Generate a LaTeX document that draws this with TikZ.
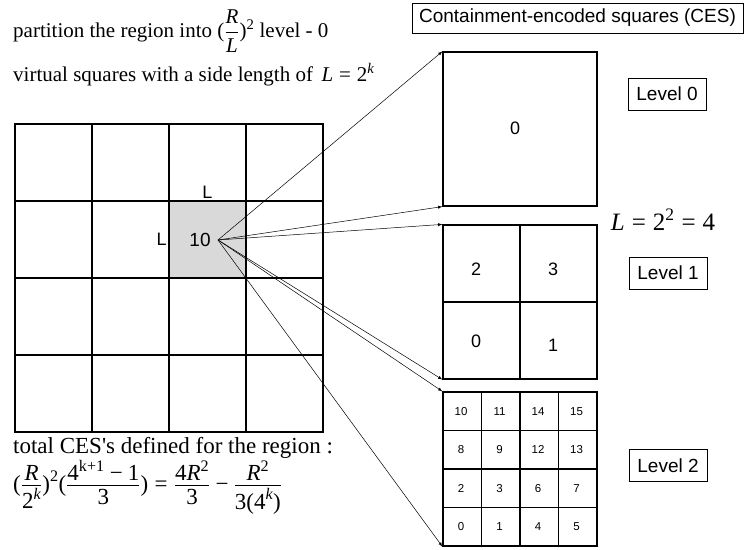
\documentclass[tikz,border=0pt]{standalone}
\usepackage{fix-cm}
\usepackage{fontspec}
\usepackage{amsmath}
\setmainfont{Liberation Serif}
\setsansfont{Liberation Sans}
\usetikzlibrary{positioning}
\newcommand{\mv}[1]{\text{\itshape #1}}
\newcommand{\mt}[1]{\text{\upshape #1}}
\newcommand{\meq}{\mathrel{\text{=}}}
\newcommand{\mmin}{\mathbin{\text{−}}}
\newcommand{\nfr}[2]{\dfrac{\raisebox{-5pt}{$#1$}}{\raisebox{2pt}{$#2$}}}
\newcommand{\squote}{{\XeTeXglyph\XeTeXcharglyph"27\relax}}
\begin{document}
\begin{tikzpicture}[x=1pt,y=1pt,
  sq/.style={draw,line width=1.2pt,minimum size=154pt,inner sep=0pt},
  gline/.style={line width=1.2pt,line cap=rect},
  lvbox/.style={draw,line width=0.6pt,minimum width=78pt,minimum height=32pt,inner sep=0pt,font=\sffamily\fontsize{19}{22}\selectfont},
  txt/.style={anchor=base west,inner sep=0pt,font=\fontsize{21}{25}\selectfont},
  num/.style={inner sep=1pt,font=\sffamily\fontsize{18}{21}\selectfont},
  snum/.style={font=\sffamily\fontsize{11.5}{13}\selectfont},
  conn/.style={-latex,line width=0.5pt}]
\useasboundingbox (0,0) rectangle (746,549);
\node[fill=black!15,minimum size=77pt,inner sep=0pt] (cell) at (207.5,309.5) {};
\foreach \i in {0,...,4} {
  \draw[gline] (15+77*\i,117) -- (15+77*\i,425);
  \draw[gline] (15,117+77*\i) -- (323,117+77*\i);
}
\node[num,font=\sffamily\fontsize{19}{22}\selectfont] (ten) at (200,309) {10};
\node[num,above=1pt of cell] (ltop) {L};
\node[num,left=1pt of cell] (lleft) {L};
\coordinate (src) at (218,309);

\node[sq] (lv0) at (520,420) {};
\node[sq] (lv1) at (520,247) {};
\node[sq] (lv2) at (520,80) {};
\draw[gline] (lv1.north) -- (lv1.south);
\draw[gline] (lv1.west) -- (lv1.east);
\foreach \i in {1,2,3} {
  \draw[gline] (443+38.5*\i,3) -- (443+38.5*\i,157);
  \draw[gline] (443,3+38.5*\i) -- (597,3+38.5*\i);
}
\node[num] (a0) at (515,421) {0};
\node[num] (b2) at (476,280) {2};
\node[num] (b3) at (553,280) {3};
\node[num] (b0) at (476,208) {0};
\node[num] (b1) at (553,204) {1};
\foreach \n [count=\i from 0] in {10,11,14,15,8,9,12,13,2,3,6,7,0,1,4,5}
  \node[snum] (c\n) at ({461+38.5*mod(\i,4)},{137.75-38.5*int(\i/4)}) {\n};

\foreach \t in {lv0,lv1,lv2} {
  \draw[conn] (src) -- (\t.north west);
  \draw[conn] (src) -- (\t.south west);
}

\node[lvbox,minimum width=331pt,minimum height=30pt] (ces) at (577.5,531) {Containment-encoded squares (CES)};
\node[lvbox] (l0) at (667,455) {Level 0};
\node[lvbox] (l1) at (668,276) {Level 1};
\node[lvbox] (l2) at (668,83.5) {Level 2};
\node[font=\fontsize{25}{30}\selectfont] (leq) at (663,329) {$\mv{L}\meq\mt{2}^{\mt{2}}\meq\mt{4}$};

\node[txt] (t1) at (13,511) {partition the region into $\mt{(}\dfrac{\mv{R}}{\mv{L}}\mt{)}^{\mt{2}}$ level - 0};
\node[txt] (t2) at (13,467) {virtual squares with a side length of\, $\mv{L}\meq\mt{2}^{\mv{k}}$};
\node[txt,font=\fontsize{23}{27}\selectfont] (t3) at (13,96) {total CES\squote s defined for the region :};
\node[txt,font=\fontsize{23}{27}\selectfont] (t4) at (13,58) {$\mt{(}\nfr{\mv{R}}{\mt{2}^{\mv{k}}}\mt{)}^{\mt{2}}\mt{(}\nfr{\mt{4}^{\mt{k+1}}\mmin\mt{1}}{\mt{3}}\mt{)}\meq\nfr{\mt{4}\mv{R}^{\mt{2}}}{\mt{3}}\mmin\nfr{\mv{R}^{\mt{2}}}{\mt{3(4}^{\mv{k}}\mt{)}}$};
\end{tikzpicture}
\end{document}
